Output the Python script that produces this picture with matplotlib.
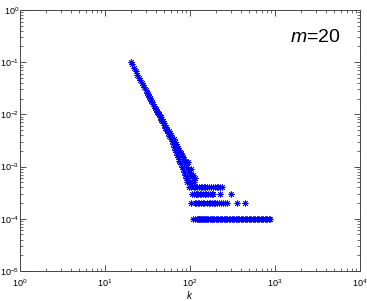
import matplotlib
matplotlib.use("Agg")
import matplotlib.pyplot as plt
import numpy as np

plt.rcParams['font.family'] = ['Liberation Sans', 'DejaVu Sans']
plt.rcParams['mathtext.fontset'] = 'custom'
plt.rcParams['mathtext.rm'] = 'Liberation Sans'
plt.rcParams['mathtext.it'] = 'Liberation Sans:italic'

N_NODES = 10000

# degree k = 20..119 and node counts
k_dense = list(range(20, 120))
count_dense = [1000, 905, 770, 668, 575, 505, 462, 398, 362, 334,
               296, 262, 248, 214, 206, 181, 170, 158, 142, 131,
               128, 112, 104, 101, 90, 88, 78, 73, 74, 63,
               67, 56, 58, 49, 50, 43, 47, 38, 44, 34,
               41, 31, 35, 27, 33, 24, 30, 21, 27, 19,
               25, 17, 23, 15, 21, 13, 19, 12, 18, 11,
               16, 10, 15, 9, 13, 8, 14, 7, 12, 6,
               11, 6, 10, 5, 9, 12, 5, 8, 4, 7,
               5, 7, 4, 9, 2, 3, 5, 6, 1, 7,
               3, 5, 4, 2, 6, 1, 4, 3, 2, 3]

# sparse tail: degrees held by 4, 3, 2 and 1 nodes
k_four = [121, 127, 133, 139, 146, 152, 160, 168, 176, 185, 195, 205, 215, 226, 237]
k_three = [122, 125, 130, 136, 143, 149, 155, 163, 171, 179, 186, 225, 303]
k_two = [123, 128, 134, 141, 147, 157, 165, 173, 181, 190, 199, 209, 219, 232, 245,
         258, 272, 356, 444]
k_one = [120, 124, 126, 129, 131, 135, 138, 142, 145, 150, 154, 159, 164, 170, 175, 182,
         188, 194, 201, 208, 216, 223, 231, 240, 249, 257, 266, 276, 286, 297, 308, 319,
         331, 343, 355, 368, 382, 396, 410, 425, 441, 457, 474, 491, 509, 528, 547, 567,
         588, 610, 632, 655, 679, 704, 730, 757, 785, 813, 843, 872]

k_all = k_dense + k_four + k_three + k_two + k_one
counts = (count_dense + [4] * len(k_four) + [3] * len(k_three)
          + [2] * len(k_two) + [1] * len(k_one))
pk = np.array(counts) / N_NODES

fig = plt.figure(figsize=(3.67, 3.01), dpi=100)
ax = fig.add_axes([0.0545, 0.0997, 0.9265, 0.8673])

ax.scatter(k_all, pk, marker=(8, 2, 0), s=15, color='#0000ff', linewidths=0.6)

ax.set_xscale('log')
ax.set_yscale('log')
ax.set_xlim(1, 1e4)
ax.set_ylim(1e-5, 1)
ax.set_xticks([1, 10, 100, 1000, 10000])
ax.set_yticks([1e-5, 1e-4, 1e-3, 1e-2, 1e-1, 1])
ax.tick_params(which='both', direction='in', top=True, right=True,
               labelsize=6.5, colors='#333333', labelcolor='black')
ax.tick_params(which='major', length=4, width=0.6)
ax.tick_params(which='minor', length=2, width=0.5)
ax.tick_params(axis='y', pad=0.5)
ax.tick_params(axis='x', pad=4.5)
for sp in ax.spines.values():
    sp.set_color('#444444')
    sp.set_linewidth(0.7)

ax.set_xlabel('$k$', fontsize=7, labelpad=0)
ax.text(0.944, 0.893, '$m$=20', transform=ax.transAxes, ha='right', va='center',
        fontsize=14)

fig.savefig('out.png', dpi=100)
